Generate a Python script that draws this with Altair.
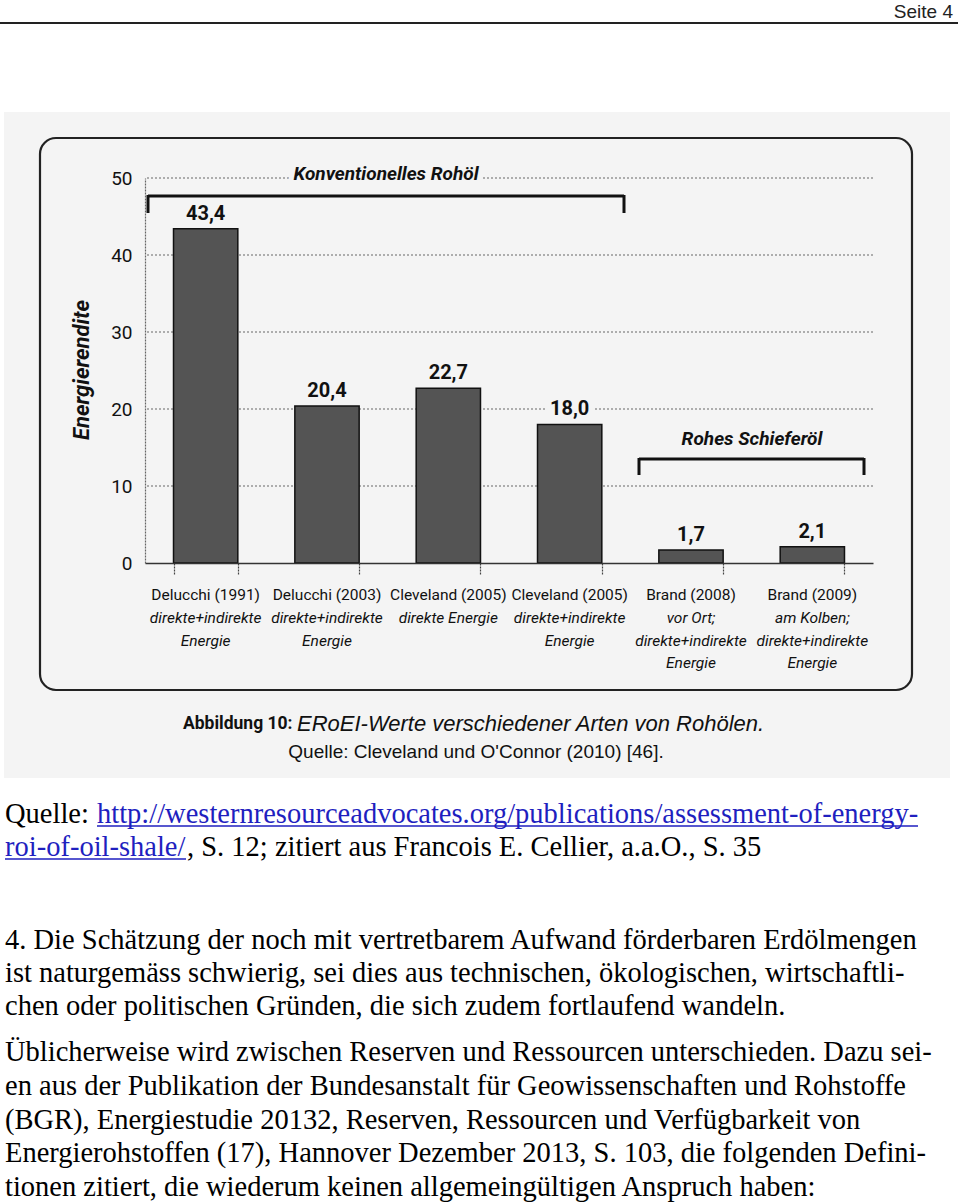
import altair as alt
import pandas as pd

# ---------------- data ----------------
ids = ["D1991", "D2003", "C2005a", "C2005b", "B2008", "B2009"]
values = [43.4, 20.4, 22.7, 18.0, 1.7, 2.1]
value_labels = ["43,4", "20,4", "22,7", "18,0", "1,7", "2,1"]
label_line1 = ["Delucchi (1991)", "Delucchi (2003)", "Cleveland (2005)",
               "Cleveland (2005)", "Brand (2008)", "Brand (2009)"]
label_rest = ["direkte+indirekte\nEnergie", "direkte+indirekte\nEnergie",
              "direkte Energie", "direkte+indirekte\nEnergie",
              "vor Ort;\ndirekte+indirekte\nEnergie",
              "am Kolben;\ndirekte+indirekte\nEnergie"]
y_ticks = [0, 10, 20, 30, 40, 50]
grid_values = [10, 20, 30, 40, 50]

body_lines = [
    "4. Die Schätzung der noch mit vertretbarem Aufwand förderbaren Erdölmengen",
    "ist naturgemäss schwierig, sei dies aus technischen, ökologischen, wirtschaftli-",
    "chen oder politischen Gründen, die sich zudem fortlaufend wandeln.",
    "Üblicherweise wird zwischen Reserven und Ressourcen unterschieden. Dazu sei-",
    "en aus der Publikation der Bundesanstalt für Geowissenschaften und Rohstoffe",
    "(BGR), Energiestudie 20132, Reserven, Ressourcen und Verfügbarkeit von",
    "Energierohstoffen (17), Hannover Dezember 2013, S. 103, die folgenden Defini-",
    "tionen zitiert, die wiederum keinen allgemeingültigen Anspruch haben:",
]
body_y = [940, 973, 1006, 1052, 1086, 1120, 1153, 1187]

df = pd.DataFrame({"id": ids, "value": values, "vlabel": value_labels,
                   "l1": label_line1, "rest": label_rest})

# ---------------- layout ----------------
PL, PT = 145, 178
W, H = 728, 385
PR = 960 - PL - W
PB = 1204 - PT - H

COND = "Roboto, Lato, Liberation Sans"
SANS = "Liberation Sans, DejaVu Sans"
SERIF = "Liberation Serif, Times New Roman, DejaVu Serif"
BG = "#f4f4f4"
INK = "#111111"
SERIF_SIZE = 28.5


def px(x):
    return x - PL


def py(y):
    return y - PT


one = alt.Data(values=[{"a": 1}])

xs = alt.X("id:N", sort=ids, title=None,
           scale=alt.Scale(domain=ids, paddingInner=0.47, paddingOuter=0.235),
           axis=alt.Axis(labels=False, tickBand="extent", tickSize=12,
                         tickDash=[2, 1], tickColor="#444", tickWidth=1.2,
                         domainColor="#333", domainWidth=1.5, grid=False,
                         zindex=1))
ys = alt.Y("value:Q", title=None,
           scale=alt.Scale(domain=[0, 50], nice=False),
           axis=alt.Axis(values=y_ticks, grid=False, ticks=False,
                         domainDash=[2, 1], domainColor="#666", domainWidth=1.2,
                         labelPadding=13, labelFont=COND, labelFontSize=19,
                         labelColor=INK, zindex=1))


def rect(x1, y1, x2, y2, **kw):
    return alt.Chart(one).mark_rect(**kw).encode(
        x=alt.value(px(x1)), x2=alt.value(px(x2)),
        y=alt.value(py(y1)), y2=alt.value(py(y2)))


def rule(x1, y1, x2, y2, **kw):
    return alt.Chart(one).mark_rule(**kw).encode(
        x=alt.value(px(x1)), x2=alt.value(px(x2)),
        y=alt.value(py(y1)), y2=alt.value(py(y2)))


def txt(s, x, y, size, font=COND, weight="normal", style="normal",
        align="left", color=INK, angle=0, baseline="middle", halo=False):
    layers = []
    if halo:
        layers.append(alt.Chart(one).mark_text(
            text=s, font=font, fontSize=size, fontWeight=weight,
            fontStyle=style, align=align, baseline=baseline, angle=angle,
            color=BG, stroke=BG, strokeWidth=10).encode(
            x=alt.value(px(x)), y=alt.value(py(y))))
    layers.append(alt.Chart(one).mark_text(
        text=s, font=font, fontSize=size, fontWeight=weight, fontStyle=style,
        align=align, baseline=baseline, angle=angle, color=color).encode(
        x=alt.value(px(x)), y=alt.value(py(y))))
    return layers


layers = []
# page header
layers += txt("Seite 4", 953, 12, 19, font=SANS, align="right", color="#222")
layers.append(rule(0, 23, 958, 23, color="#222", strokeWidth=2))
# scan background & frame
layers.append(rect(4, 112, 950, 778, color=BG))
layers.append(rect(40, 138, 912, 690, filled=False, stroke="#222",
                   strokeWidth=2.2, cornerRadius=16))

# gridlines (dotted) behind bars
grid = alt.Chart(pd.DataFrame({"value": grid_values})).mark_rule(
    color="#666", strokeDash=[2, 2], strokeWidth=1).encode(y=ys)
layers.append(grid)

# value-label halo (cuts the gridlines), drawn beneath the bars
base_lab = alt.Chart(df).encode(x=alt.X("id:N", sort=ids), y="value:Q", text="vlabel:N")
layers.append(base_lab.mark_text(font=COND, fontSize=20, fontWeight="bold",
                                 baseline="alphabetic", dy=-9, color=BG,
                                 stroke=BG, strokeWidth=10))

# bars
bars = alt.Chart(df).mark_bar(color="#545454", stroke="#111",
                              strokeWidth=1.5).encode(x=xs, y=ys)
layers.append(bars)

# value labels
layers.append(base_lab.mark_text(font=COND, fontSize=20, fontWeight="bold",
                                 baseline="alphabetic", dy=-9, color=INK))

# category labels
layers.append(alt.Chart(df).mark_text(font=COND, fontSize=15.5, baseline="top",
                                      color=INK).encode(
    x=alt.X("id:N", sort=ids), y=alt.value(py(588)), text="l1:N"))
layers.append(alt.Chart(df).mark_text(font=COND, fontSize=15.5, fontStyle="italic",
                                      baseline="top", lineBreak="\n",
                                      lineHeight=22.5, color=INK).encode(
    x=alt.X("id:N", sort=ids), y=alt.value(py(611)), text="rest:N"))

# y title
layers += txt("Energierendite", 82, 370, 22, weight="bold", style="italic",
              align="center", angle=270)

# group annotations
layers += txt("Konventionelles Rohöl", 386, 174, 19, weight="bold",
              style="italic", align="center", halo=True)
layers.append(rule(148, 196, 624, 196, color=INK, strokeWidth=3))
layers.append(rule(148, 195, 148, 213, color=INK, strokeWidth=3))
layers.append(rule(624, 195, 624, 213, color=INK, strokeWidth=3))

layers += txt("Rohes Schieferöl", 752, 439, 19, weight="bold",
              style="italic", align="center")
layers.append(rule(639, 459, 864, 459, color=INK, strokeWidth=3))
layers.append(rule(639, 458, 639, 475, color=INK, strokeWidth=3))
layers.append(rule(864, 458, 864, 475, color=INK, strokeWidth=3))

# caption
layers += txt("Abbildung 10:", 183, 724, 17.5, weight="bold")
layers += txt("ERoEI-Werte verschiedener Arten von Rohölen.", 297, 724, 22,
              font=SANS, style="italic")
layers += txt("Quelle: Cleveland und O'Connor (2010) [46].", 476, 752, 19,
              font=SANS, align="center")

# source lines
LINK = "#1f1fbf"
layers += txt("Quelle:", 5, 814, SERIF_SIZE, font=SERIF, color="#000")
layers += txt("http://westernresourceadvocates.org/publications/assessment-of-energy-",
              97, 814, SERIF_SIZE, font=SERIF, color=LINK)
layers.append(rule(97, 826, 918, 826, color=LINK, strokeWidth=1.3))
layers += txt("roi-of-oil-shale/", 5, 847, SERIF_SIZE, font=SERIF, color=LINK)
layers.append(rule(5, 859, 186, 859, color=LINK, strokeWidth=1.3))
layers += txt(", S. 12; zitiert aus Francois E. Cellier, a.a.O., S. 35", 187, 847,
              SERIF_SIZE, font=SERIF, color="#000")

for line, yy in zip(body_lines, body_y):
    layers += txt(line, 5, yy, SERIF_SIZE, font=SERIF, color="#000")

chart = alt.layer(*layers).properties(
    width=W, height=H,
    autosize=alt.AutoSizeParams(type="none"),
    padding={"left": PL, "top": PT, "right": PR, "bottom": PB},
    background="white",
).configure_view(stroke=None)

chart.save("out.html", embed_options={"renderer": "svg", "actions": False})
